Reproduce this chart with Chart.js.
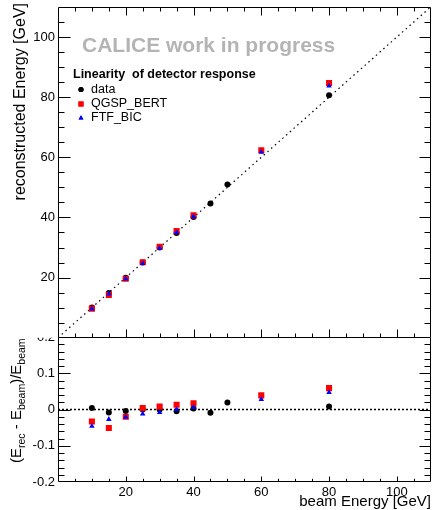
<!DOCTYPE html>
<html><head><meta charset="utf-8">
<script src="https://cdn.jsdelivr.net/npm/chart.js@4/dist/chart.umd.min.js"></script>
<style>
html,body{margin:0;padding:0;background:#fff;}
#wrap{position:relative;width:435px;height:510px;overflow:hidden;background:#fff;}
canvas{position:absolute;left:0;top:0;}
</style></head><body>
<div id="wrap">
<canvas id="low" width="435" height="510"></canvas>
<canvas id="top" width="435" height="342"></canvas>
</div>
<script>
// ---- data ----
const beamData = [10, 15, 20, 25, 30, 35, 40, 45, 50, 80];
const recoData = [10.04, 14.88, 19.92, 25.0, 30.0, 34.83, 40.12, 44.6, 50.95, 80.64];
const beamSim  = [10, 15, 20, 25, 30, 35, 40, 60, 80];
const recoQGSP = [9.67, 14.24, 19.6, 25.1, 30.24, 35.46, 40.68, 62.34, 84.72];
const recoFTF  = [9.54, 14.6, 19.58, 24.7, 29.76, 35.0, 40.24, 61.68, 83.76];
const resData  = [0.004, -0.008, -0.004, 0.0, 0.0, -0.005, 0.003, -0.009, 0.019, 0.008];
const resQGSP  = [-0.033, -0.051, -0.020, 0.004, 0.008, 0.013, 0.017, 0.039, 0.059];
const resFTF   = [-0.046, -0.027, -0.021, -0.012, -0.008, 0.0, 0.006, 0.028, 0.047];
const seriesNames = ['data', 'QGSP_BERT', 'FTF_BIC'];
const xTickLabels = [20, 40, 60, 80, 100];
const yTopTickLabels = [20, 40, 60, 80, 100];
const yLowTickLabels = [-0.2, -0.1, 0, 0.1, 0.2];
const xRange = [0, 110];
const yTopRange = [0, 110];
const yLowRange = [-0.2, 0.2];

const FONT = "'Liberation Sans', Arial, Helvetica, sans-serif";
Chart.defaults.font.family = FONT;
Chart.defaults.font.size = 13;
Chart.defaults.color = '#000';

function pts(xs, ys) { return xs.map((x, i) => ({x: x, y: ys[i]})); }

const COLORS = ['#000000', '#ff0000', '#0000ff'];
const STYLES = ['circle', 'rect', 'triangle'];
const RADII = [3, 4.3, 3.2];

function markerSet(label, data, k) {
  return {
    type: 'scatter', label: label, data: data,
    pointStyle: STYLES[k], pointRadius: RADII[k], pointHoverRadius: RADII[k],
    backgroundColor: COLORS[k], borderColor: COLORS[k], borderWidth: 0,
    showLine: false, order: 3 - k
  };
}

// frame + inward ticks (ROOT style)
const framePlugin = {
  id: 'frame',
  afterDatasetsDraw(chart, args, o) {
    const ctx = chart.ctx, a = chart.chartArea;
    const xs = chart.scales.x, ys = chart.scales.y;
    const L = Math.round(a.left) + 0.5, R = Math.round(a.right) - 0.5;
    const T = Math.round(a.top) + 0.5, B = Math.round(a.bottom) - 0.5;
    ctx.save();
    ctx.strokeStyle = '#000'; ctx.lineWidth = 1;
    ctx.beginPath();
    ctx.moveTo(L, B); ctx.lineTo(R, B); ctx.lineTo(R, T);
    ctx.lineTo(L, T); ctx.lineTo(L, B);
    ctx.stroke();
    const nx = Math.round((o.xmax - o.xmin) / o.xminor);
    ctx.beginPath();
    for (let i = 1; i < nx; i++) {
      const v = o.xmin + i * o.xminor;
      const major = Math.abs(v / o.xmajor - Math.round(v / o.xmajor)) < 1e-6;
      const px = Math.round(xs.getPixelForValue(v)) + 0.5;
      const lb = major ? o.xBottom[0] : o.xBottom[1];
      ctx.moveTo(px, B); ctx.lineTo(px, B - lb);
      if (o.xTop) {
        const lt = major ? o.xTop[0] : o.xTop[1];
        ctx.moveTo(px, T); ctx.lineTo(px, T + lt);
      }
    }
    const ny = Math.round((o.ymax - o.ymin) / o.yminor);
    for (let i = 1; i < ny; i++) {
      const v = o.ymin + i * o.yminor;
      const major = Math.abs(v / o.ymajor - Math.round(v / o.ymajor)) < 1e-6;
      const py = Math.round(ys.getPixelForValue(v)) + 0.5;
      const ll = major ? o.yLeft[0] : o.yLeft[1];
      const lr = major ? o.yRight[0] : o.yRight[1];
      ctx.moveTo(L, py); ctx.lineTo(L + ll, py);
      ctx.moveTo(R, py); ctx.lineTo(R - lr, py);
    }
    ctx.stroke();
    ctx.restore();
  }
};

// white background (only down to the bottom of the plot frame for the upper pad)
const whiteBg = {
  id: 'whiteBg',
  beforeDraw(chart, args, o) {
    const ctx = chart.ctx;
    const h = o && o.toFrame ? chart.chartArea.bottom : chart.height;
    ctx.save(); ctx.fillStyle = '#fff';
    ctx.fillRect(0, 0, chart.width, h);
    ctx.restore();
  }
};

const topText = {
  id: 'topText',
  afterDraw(chart) {
    const ctx = chart.ctx;
    ctx.save();
    ctx.font = 'bold 21px ' + FONT;
    ctx.fillStyle = '#b4b4b4';
    ctx.textBaseline = 'alphabetic'; ctx.textAlign = 'left';
    ctx.fillText('CALICE work in progress', 82, 51.5);
    ctx.fillStyle = '#000';
    ctx.font = 'bold 12.5px ' + FONT;
    ctx.textBaseline = 'middle';
    ctx.fillText('Linearity  of detector response', 73, 75);
    ctx.font = '12.5px ' + FONT;
    const ly = [89.5, 104, 118];
    const lr = [2.6, 3.6, 2.8];
    for (let k = 0; k < 3; k++) {
      ctx.fillStyle = COLORS[k];
      ctx.strokeStyle = COLORS[k];
      Chart.helpers.drawPoint(ctx, {pointStyle: STYLES[k], radius: lr[k], borderWidth: 0, rotation: 0}, 81, ly[k]);
      ctx.fill();
      ctx.fillStyle = '#000';
      ctx.fillText(seriesNames[k], 91, ly[k]);
    }
    ctx.translate(25, 3);
    ctx.rotate(-Math.PI / 2);
    ctx.font = '16px ' + FONT;
    ctx.textAlign = 'right'; ctx.textBaseline = 'alphabetic';
    ctx.fillStyle = '#000';
    ctx.fillText('reconstructed Energy [GeV]', 0, 0);
    ctx.restore();
  }
};

const lowText = {
  id: 'lowText',
  afterDraw(chart) {
    const ctx = chart.ctx;
    ctx.save();
    ctx.fillStyle = '#000';
    ctx.font = '15px ' + FONT;
    ctx.textAlign = 'right'; ctx.textBaseline = 'alphabetic';
    ctx.fillText('beam Energy [GeV]', 431, 506);
    ctx.translate(20.5, 463);
    ctx.rotate(-Math.PI / 2);
    ctx.textAlign = 'left';
    const parts = [['(E', 0], ['rec', 1], [' - E', 0], ['beam', 1], [')/E', 0], ['beam', 1]];
    let x = 0;
    for (const [t, sub] of parts) {
      ctx.font = (sub ? '10.5px ' : '15px ') + FONT;
      ctx.fillText(t, x, sub ? 4.5 : 0);
      x += ctx.measureText(t).width;
    }
    ctx.restore();
  }
};

function fmtLow(v) {
  if (Math.abs(v) < 1e-9) return '0';
  return (Math.round(v * 10) / 10).toString();
}

// ---- lower panel ----
new Chart(document.getElementById('low'), {
  type: 'scatter',
  data: {
    datasets: [
      {type: 'line', data: [{x: xRange[0], y: 0}, {x: xRange[1], y: 0}], borderColor: '#000',
       borderWidth: 1.5, borderDash: [2, 2], pointRadius: 0, order: 10, showLine: true},
      markerSet(seriesNames[0], pts(beamData, resData), 0),
      markerSet(seriesNames[1], pts(beamSim, resQGSP), 1),
      markerSet(seriesNames[2], pts(beamSim, resFTF), 2)
    ]
  },
  options: {
    responsive: false, maintainAspectRatio: false, animation: false, devicePixelRatio: 1,
    layout: {padding: {left: 0, right: 1, top: 337, bottom: 0}},
    plugins: {
      legend: {display: false}, tooltip: {enabled: false},
      whiteBg: {toFrame: false},
      frame: {xmin: xRange[0], xmax: xRange[1], xminor: 5, xmajor: 20, xBottom: [5, 2.7], xTop: null,
              ymin: yLowRange[0], ymax: yLowRange[1], yminor: 0.02, ymajor: 0.1,
              yLeft: [12, 6], yRight: [11, 6]}
    },
    scales: {
      x: {type: 'linear', min: xRange[0], max: xRange[1],
          grid: {display: false, drawTicks: false}, border: {display: false},
          ticks: {stepSize: 20, padding: 3, autoSkip: false, maxRotation: 0, includeBounds: false,
                  font: {size: 13},
                  callback: v => xTickLabels.includes(v) ? String(v) : ''},
          afterFit: s => { s.height = 28; s.paddingLeft = 0; s.paddingRight = 0; }},
      y: {type: 'linear', min: yLowRange[0], max: yLowRange[1],
          grid: {display: false, drawTicks: false}, border: {display: false},
          ticks: {stepSize: 0.1, padding: 3, autoSkip: false, includeBounds: false, font: {size: 13},
                  callback: v => yLowTickLabels.some(t => Math.abs(t - v) < 1e-6) ? fmtLow(v) : ''},
          afterFit: s => { s.width = 58; s.paddingTop = 0; s.paddingBottom = 0; }}
    }
  },
  plugins: [whiteBg, framePlugin, lowText]
});

// ---- upper panel ----
new Chart(document.getElementById('top'), {
  type: 'scatter',
  data: {
    datasets: [
      {type: 'line', data: [{x: xRange[0], y: yTopRange[0]}, {x: xRange[1], y: yTopRange[1]}], borderColor: '#000',
       borderWidth: 1.2, borderDash: [1.5, 3.5], pointRadius: 0, order: 10, showLine: true},
      markerSet(seriesNames[0], pts(beamData, recoData), 0),
      markerSet(seriesNames[1], pts(beamSim, recoQGSP), 1),
      markerSet(seriesNames[2], pts(beamSim, recoFTF), 2)
    ]
  },
  options: {
    responsive: false, maintainAspectRatio: false, animation: false, devicePixelRatio: 1,
    layout: {padding: {left: 0, right: 1, top: 7, bottom: 0}},
    plugins: {
      legend: {display: false}, tooltip: {enabled: false},
      whiteBg: {toFrame: true},
      frame: {xmin: xRange[0], xmax: xRange[1], xminor: 5, xmajor: 20, xBottom: [8, 4], xTop: [8, 4],
              ymin: yTopRange[0], ymax: yTopRange[1], yminor: 5, ymajor: 20,
              yLeft: [12, 6], yRight: [11, 6]}
    },
    scales: {
      x: {type: 'linear', min: xRange[0], max: xRange[1], display: false},
      y: {type: 'linear', min: yTopRange[0], max: yTopRange[1],
          grid: {display: false, drawTicks: false}, border: {display: false},
          ticks: {stepSize: 20, padding: 3, autoSkip: false, includeBounds: false, font: {size: 13},
                  callback: v => yTopTickLabels.includes(v) ? String(v) : ''},
          afterFit: s => { s.width = 58; s.paddingTop = 0; s.paddingBottom = 0; }}
    }
  },
  plugins: [whiteBg, framePlugin, topText]
});
</script>
</body></html>
